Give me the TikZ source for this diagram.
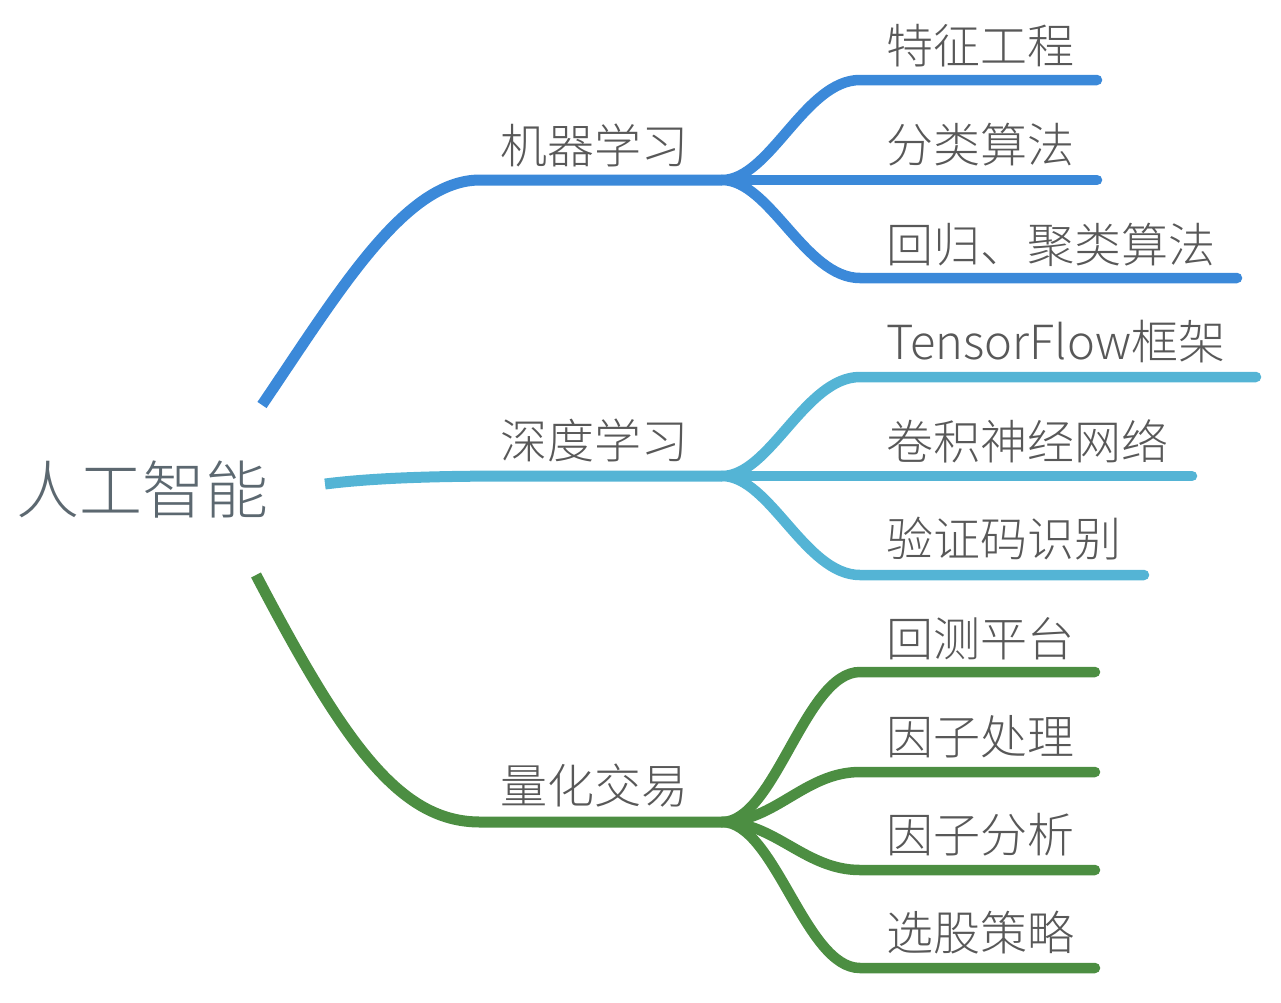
\documentclass[tikz,border=0pt]{standalone}
\usepackage{fontspec}
\setmainfont{Noto Sans CJK SC}[UprightFont=* Light]
\usetikzlibrary{positioning}
\definecolor{mindblue}{RGB}{59,137,217}
\definecolor{mindcyan}{RGB}{84,180,213}
\definecolor{mindgreen}{RGB}{76,142,66}
\definecolor{mindtext}{RGB}{88,88,88}
\definecolor{roottext}{RGB}{92,104,112}

\begin{document}
\begin{tikzpicture}[x=1pt, y=-1pt,
  trunk/.style={draw=#1, line width=11pt, line cap=butt},
  twig/.style={draw=#1, line width=10.5pt, line cap=round},
  label/.style={font=\fontsize{47}{50}\selectfont, text=mindtext,
                anchor=west, inner sep=0pt},
]
  \useasboundingbox (0,0) rectangle (1281,1002);

  % ---- Root ----
  \node[label, text=roottext, font=\fontsize{63}{66}\selectfont] (ai) at (16,490) {人工智能};
  \coordinate (ai-up)   at (262,405);
  \coordinate (ai-mid)  at (325,484);
  \coordinate (ai-down) at (256,575);

  % ---- Main topics ----
  \node[label] (ml) at (500,145) {机器学习};
  \node[label] (dl) at (500,440) {深度学习};
  \node[label] (qt) at (500,786) {量化交易};
  \coordinate (ml-fork) at (722,180);
  \coordinate (dl-fork) at (722,476);
  \coordinate (qt-fork) at (722,822);

  % ---- Leaves (machine learning) ----
  \node[label] (fe)  at (886,46)  {特征工程};
  \node[label] (cls) at (886,145) {分类算法};
  \node[label] (reg) at (886,245) {回归、聚类算法};
  \coordinate (fe-end)  at (1097,80);
  \coordinate (cls-end) at (1097,180);
  \coordinate (reg-end) at (1237,278);

  % ---- Leaves (deep learning) ----
  \node[label] (tf)  at (886,342) {TensorFlow框架};
  \node[label] (cnn) at (886,441) {卷积神经网络};
  \node[label] (cap) at (886,539) {验证码识别};
  \coordinate (tf-end)  at (1256,377);
  \coordinate (cnn-end) at (1192,476);
  \coordinate (cap-end) at (1144,575);

  % ---- Leaves (quant trading) ----
  \node[label] (bt)  at (886,639) {回测平台};
  \node[label] (fp)  at (886,737) {因子处理};
  \node[label] (fa)  at (886,835) {因子分析};
  \node[label] (sel) at (886,933) {选股策略};
  \coordinate (bt-end)  at (1095,672);
  \coordinate (fp-end)  at (1095,772);
  \coordinate (fa-end)  at (1095,870);
  \coordinate (sel-end) at (1095,968);

  % ---- Trunks ----
  \draw[trunk=mindblue] (ai-up) .. controls (340,290) and (405,180) .. (480,180) -- (ml-fork);
  \draw[trunk=mindcyan] (ai-mid) .. controls (380,477) and (450,476) .. (520,476) -- (dl-fork);
  \draw[trunk=mindgreen] (ai-down) .. controls (345,745) and (400,822) .. (480,822) -- (qt-fork);

  % ---- Twigs ----
  \draw[twig=mindblue] (ml-fork) .. controls (770,180) and (805,80) .. (860,80) -- (fe-end);
  \draw[twig=mindblue] (ml-fork) -- (cls-end);
  \draw[twig=mindblue] (ml-fork) .. controls (770,180) and (805,278) .. (860,278) -- (reg-end);

  \draw[twig=mindcyan] (dl-fork) .. controls (770,476) and (805,377) .. (860,377) -- (tf-end);
  \draw[twig=mindcyan] (dl-fork) -- (cnn-end);
  \draw[twig=mindcyan] (dl-fork) .. controls (770,476) and (805,575) .. (860,575) -- (cap-end);

  \draw[twig=mindgreen] (qt-fork) .. controls (775,822) and (805,672) .. (860,672) -- (bt-end);
  \draw[twig=mindgreen] (qt-fork) .. controls (775,822) and (805,772) .. (860,772) -- (fp-end);
  \draw[twig=mindgreen] (qt-fork) .. controls (775,822) and (805,870) .. (860,870) -- (fa-end);
  \draw[twig=mindgreen] (qt-fork) .. controls (775,822) and (805,968) .. (860,968) -- (sel-end);
\end{tikzpicture}
\end{document}
